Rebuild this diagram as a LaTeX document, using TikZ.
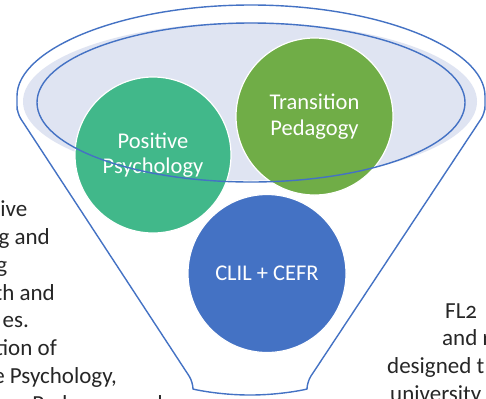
\documentclass[tikz,border=0pt]{standalone}
\usepackage{fontspec}
\setmainfont{Carlito}[Numbers=OldStyle]
\definecolor{funnelblue}{HTML}{4472C4}
\definecolor{ppgreen}{HTML}{41B88A}
\definecolor{tpgreen}{HTML}{70AD47}
\definecolor{clilblue}{HTML}{4472C4}
\definecolor{bowlfill}{HTML}{DFE4F2}
\tikzset{
  funnelline/.style={draw=funnelblue, line width=1.4bp},
  bubble/.style={circle, draw=white, line width=1.2bp, inner sep=0pt, text=white, align=center,
    font=\fontsize{22.5bp}{25.5bp}\selectfont},
  sidetext/.style={inner sep=0pt, text=black!85, font=\fontsize{23bp}{28bp}\selectfont},
}
\begin{document}
\begin{tikzpicture}[x=1bp,y=-1bp]
\useasboundingbox (0,0) rectangle (486,398);
\clip (0,0) rectangle (486,398);
% funnel outline
\draw[funnelline, fill=white, rounded corners=7bp]
  (17,103) arc[start angle=180, end angle=360, x radius=234, y radius=98]
  -- (485,113) -- (307,382)
  arc[start angle=0, end angle=180, x radius=57, y radius=13]
  -- (17,113) -- cycle;
% bowl fill
\fill[bowlfill] (250,101.5) ellipse[x radius=227, y radius=79];
% circles
\node[bubble, fill=ppgreen, minimum size=156bp] (pp) at (153,155) {Positive\\Psychology};
\node[bubble, fill=tpgreen, minimum size=157bp] (tp) at (314.5,116.5) {Transition\\Pedagogy};
\node[bubble, fill=clilblue, minimum size=158bp] (clil) at (267,273.5) {CLIL + CEFR};
% bowl outline on top
\draw[funnelline] (251,102.5) ellipse[x radius=214, y radius=79.5];
% left text fragments
\node[sidetext, anchor=base east] (l1) at (27.5,216.5) {ive};
\node[sidetext, anchor=base east] (l2) at (50,244.5) {g and};
\node[sidetext, anchor=base east] (l3) at (7.5,272) {g};
\node[sidetext, anchor=base east] (l4) at (55,300) {th and};
\node[sidetext, anchor=base east] (l5) at (29,327) {es.};
\node[sidetext, anchor=base east] (l6) at (57,355) {tion of};
\node[sidetext, anchor=base east] (l7) at (117,383.5) {e Psychology,};
\node[sidetext, anchor=base east] (l8) at (163,411.5) {Pedagogy and};
% right text fragments
\node[sidetext, anchor=base west] (r1) at (445,318) {FL2};
\node[sidetext, anchor=base west] (r2) at (442,345.5) {and r};
\node[sidetext, anchor=base west] (r3) at (387,373) {designed t};
\node[sidetext, anchor=base west] (r4) at (390,401) {university};
\end{tikzpicture}
\end{document}
